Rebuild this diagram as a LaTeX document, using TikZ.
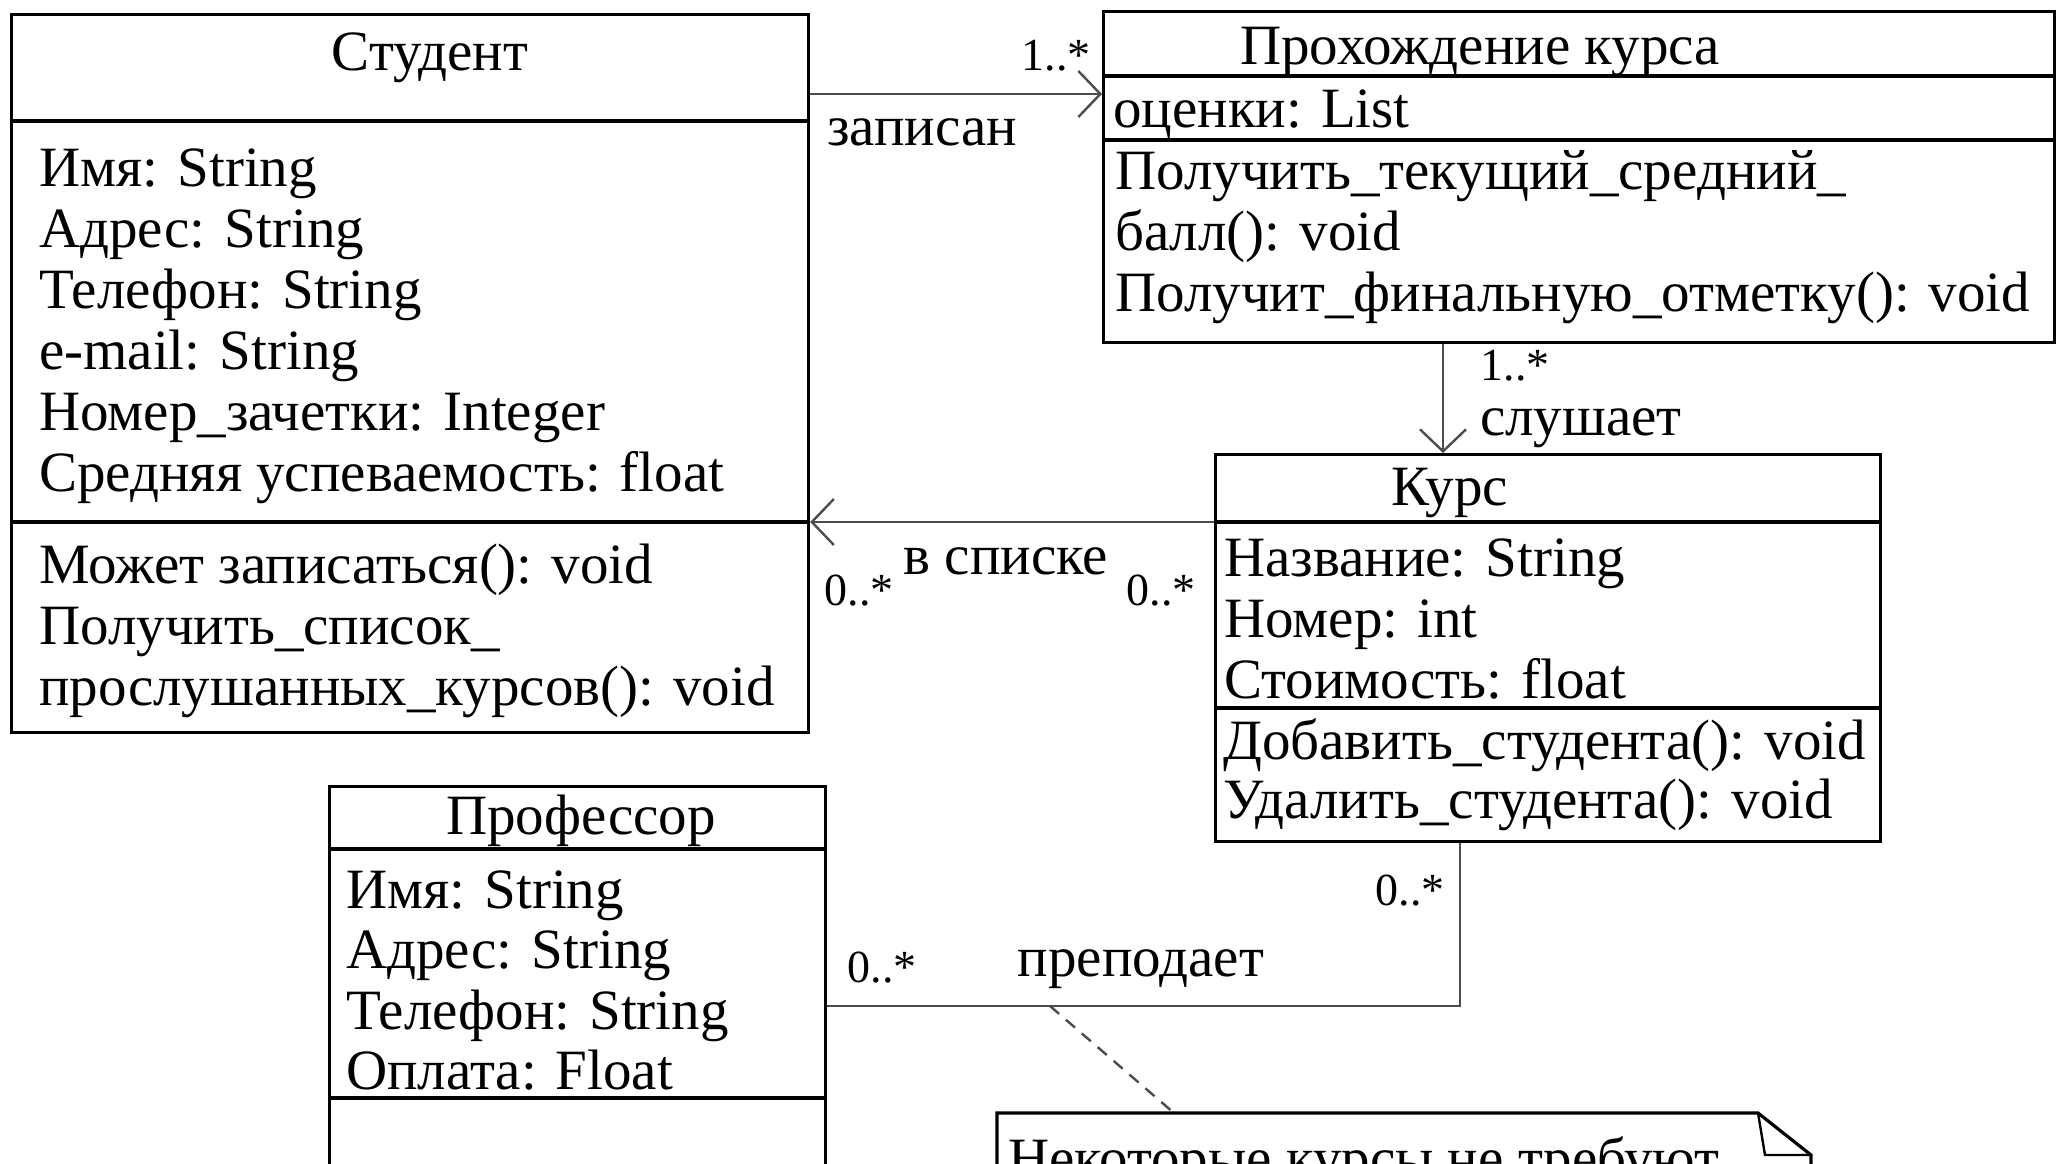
\documentclass[tikz,border=0pt]{standalone}
\usepackage{fontspec}
\setmainfont{Liberation Serif}
\usetikzlibrary{arrows.meta}
\tikzset{
  box/.style={draw=black, line width=3.2pt, rectangle, inner sep=0pt, anchor=north west},
  divider/.style={draw=black, line width=3.2pt},
  conn/.style={draw=black!70, line width=2.8pt},
  uarrow/.style={-{Straight Barb[length=22pt,width=46pt,line width=2.4pt]}},
  txt/.style={font=\fontsize{57}{61}\selectfont, inner sep=0pt, anchor=base west},
  ctxt/.style={font=\fontsize{57}{61}\selectfont, inner sep=0pt, anchor=base},
  lbl/.style={font=\fontsize{57}{61}\selectfont, inner sep=0pt, anchor=base},
  mult/.style={font=\fontsize{46}{52}\selectfont, inner sep=0pt, anchor=base},
}
\begin{document}
\begin{tikzpicture}[x=1pt,y=-1pt]
\useasboundingbox (0,0) rectangle (2057,1163);
\clip (0,0) rectangle (2057,1163);
\fill[white] (0,0) rectangle (2057,1163);

% ---------- Student ----------
\node[box, minimum width=797pt, minimum height=718pt] (S) at (10,13) {};
\draw[divider] (10,121) -- (807,121);
\draw[divider] (10,522) -- (807,522);
\node[ctxt] (Sh) at (430,70) {Студент};
\foreach \t [count=\i] in {Имя: String, Адрес: String, Телефон: String, e-mail: String, Номер\_зачетки: Integer, Средняя успеваемость: float}
  \node[txt] (Sa\i) at (39,{186+61*(\i-1)}) {\t};
\foreach \t [count=\i] in {Может записаться(): void, Получить\_список\_, прослушанных\_курсов(): void}
  \node[txt] (Sm\i) at (39,{583+61*(\i-1)}) {\t};

% ---------- Прохождение курса ----------
\node[box, minimum width=951pt, minimum height=331pt] (P) at (1102,10) {};
\draw[divider] (1102,76) -- (2053,76);
\draw[divider] (1102,140) -- (2053,140);
\node[ctxt] (Ph) at (1480,64) {Прохождение курса};
\node[txt] (Pa1) at (1113,127) {оценки: List};
\foreach \t [count=\i] in {Получить\_текущий\_средний\_, балл(): void, Получит\_финальную\_отметку(): void}
  \node[txt] (Pm\i) at (1115,{189+61*(\i-1)}) {\t};

% ---------- Курс ----------
\node[box, minimum width=665pt, minimum height=387pt] (K) at (1214,453) {};
\draw[divider] (1214,522) -- (1879,522);
\draw[divider] (1214,708) -- (1879,708);
\node[ctxt] (Kh) at (1450,505) {Курс};
\foreach \t [count=\i] in {Название: String, Номер: int, Стоимость: float}
  \node[txt] (Ka\i) at (1224,{576+61*(\i-1)}) {\t};
\foreach \t [count=\i] in {Добавить\_студента(): void, Удалить\_студента(): void}
  \node[txt] (Km\i) at (1223,{759+59*(\i-1)}) {\t};

% ---------- Профессор ----------
\node[box, minimum width=496pt, minimum height=420pt] (Pr) at (328,785) {};
\draw[divider] (328,849) -- (824,849);
\draw[divider] (328,1098) -- (824,1098);
\node[ctxt] (Prh) at (581,834) {Профессор};
\foreach \t [count=\i] in {Имя: String, Адрес: String, Телефон: String, Оплата: Float}
  \node[txt] (Pra\i) at (346,{908+60.5*(\i-1)}) {\t};

% ---------- Note ----------
\coordinate (n1) at (997,1113);
\coordinate (n2) at (1758,1113);
\coordinate (n3) at (1811,1155);
\coordinate (n4) at (1765,1155);
\draw[line width=3.2pt, line join=miter] (997,1220) -- (n1) -- (n2) -- (n3) -- (1811,1220);
\draw[line width=2.4pt] (n2) -- (n4) -- (n3);
\node[txt] (Nt) at (1008,1177) {Некоторые курсы не требуют};

% ---------- Connectors ----------
% записан
\coordinate (a1) at (S.east |- 0,94);
\coordinate (a2) at (P.west |- 0,94);
\draw[conn, uarrow] (a1) -- (a2);
\node[mult] (m1) at (1056,70) {1..*};
\node[lbl] (l1) at (922,145) {записан};

% слушает
\coordinate (b1) at (P.south -| 1443,0);
\coordinate (b2) at (K.north -| 1443,0);
\draw[conn, uarrow] (b1) -- (b2);
\node[mult] (m2) at (1515,380) {1..*};
\node[lbl] (l2) at (1581,435) {слушает};

% в списке
\coordinate (c1) at (K.west |- 0,522);
\coordinate (c2) at (S.east |- 0,522);
\draw[conn, uarrow] (c1) -- (c2);
\node[mult] (m3) at (859,605) {0..*};
\node[lbl] (l3) at (1006,574) {в списке};
\node[mult] (m4) at (1161,605) {0..*};

% преподает
\coordinate (d1) at (Pr.east |- 0,1006);
\coordinate (d2) at (1460,1006);
\coordinate (d3) at (K.south -| 1460,0);
\draw[conn] (d1) -- (d2) -- (d3);
\node[mult] (m5) at (882,982) {0..*};
\node[lbl] (l4) at (1141,976) {преподает};
\node[mult] (m6) at (1410,905) {0..*};

% note link
\coordinate (e1) at (1050,1006);
\coordinate (e2) at (1174,1113);
\draw[black!70, line width=2.4pt, dash pattern=on 12pt off 9pt] (e1) -- (e2);
\end{tikzpicture}
\end{document}
